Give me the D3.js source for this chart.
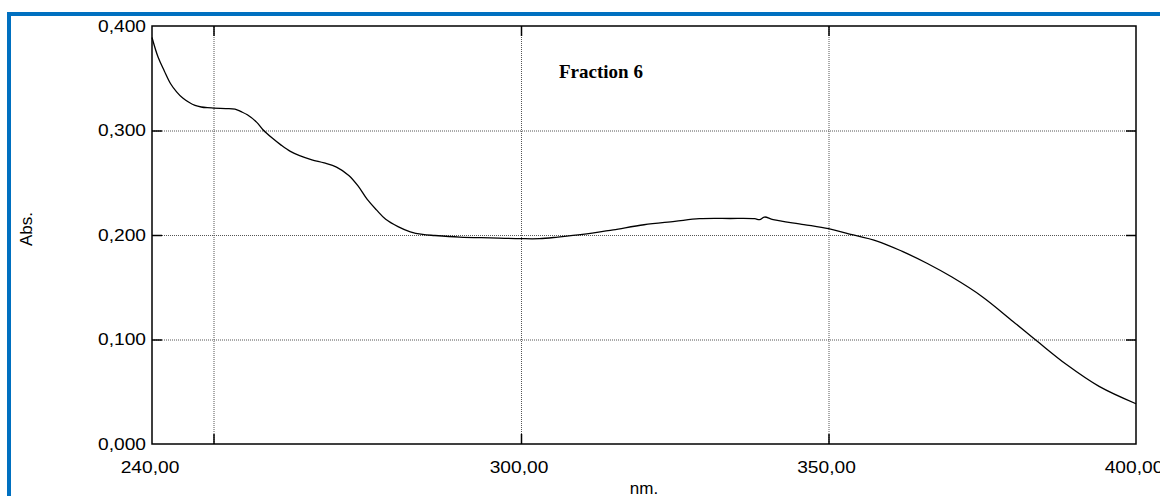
<!DOCTYPE html>
<html>
<head>
<meta charset="utf-8">
<script src="https://cdn.jsdelivr.net/npm/d3@7"></script>
<style>
  body { margin: 0; background: #fff; }
  text { fill: #000; }
</style>
</head>
<body>
<div id="chart"></div>
<script>
// Spectrum: wavelength (nm) and absorbance
const wavelengths = [240, 241, 242, 243, 244, 245, 246, 247, 248, 249, 250, 252, 253.5, 254.5, 255.5, 257, 258, 259.5, 261, 262.5, 264, 266, 268, 270, 272, 273.5, 275, 276.5, 278, 280, 282, 284, 286, 290, 295, 300, 303, 306, 310, 315, 320, 325, 329, 334, 338, 338.8, 339.6, 341, 346, 350, 353, 358, 362, 366, 370, 375, 380, 384, 388.7, 394, 400];
const absorbance = [0.389, 0.370, 0.357, 0.345, 0.337, 0.331, 0.327, 0.324, 0.3225, 0.3218, 0.3215, 0.321, 0.3205, 0.318, 0.315, 0.308, 0.301, 0.293, 0.286, 0.280, 0.276, 0.272, 0.269, 0.265, 0.257, 0.247, 0.234, 0.224, 0.215, 0.208, 0.203, 0.2005, 0.1995, 0.198, 0.1972, 0.1965, 0.1965, 0.198, 0.2005, 0.205, 0.2098, 0.213, 0.2156, 0.2158, 0.2156, 0.2147, 0.2172, 0.2147, 0.2100, 0.2060, 0.2015, 0.194, 0.1843, 0.173, 0.160, 0.141, 0.1173, 0.098, 0.076, 0.0551, 0.0385];

const xLabelValues = [240, 300, 350, 400];
const xGridValues = [250, 300, 350];
const yTickValues = [0, 0.1, 0.2, 0.3, 0.4];
const yGridValues = [0.1, 0.2, 0.3];
const chartTitle = "Fraction 6";

const sansFont = "'Liberation Sans', Arial, sans-serif";
const serifFont = "'Liberation Serif', 'Times New Roman', serif";

const svgWidth = 1160;
const svgHeight = 496;
const margin = { top: 26, right: 24, bottom: 52, left: 152 };
const chartWidth = 1136 - margin.left;
const chartHeight = 444 - margin.top;

const svg = d3.select("#chart")
  .append("svg")
  .attr("width", svgWidth)
  .attr("height", svgHeight);

svg.append("rect").attr("width", svgWidth).attr("height", svgHeight).attr("fill", "#fff");

// blue frame (top + left only)
svg.append("rect").attr("x", 7).attr("y", 12).attr("width", svgWidth - 7).attr("height", 4).attr("fill", "#0070c0");
svg.append("rect").attr("x", 7).attr("y", 12).attr("width", 4).attr("height", svgHeight - 12).attr("fill", "#0070c0");

const chartGroup = svg.append("g")
  .attr("transform", `translate(${margin.left}, ${margin.top})`);

const xScale = d3.scaleLinear().domain([240, 400]).range([0, chartWidth]);
const yScale = d3.scaleLinear().domain([0, 0.4]).range([chartHeight, 0]);

const fmtX = v => d3.format(".2f")(v).replace(".", ",");
const fmtY = v => d3.format(".3f")(v).replace(".", ",");

// dotted grid
chartGroup.append("g")
  .attr("class", "grid")
  .call(d3.axisLeft(yScale).tickValues(yGridValues).tickSize(-chartWidth).tickFormat(""));
chartGroup.append("g")
  .attr("class", "grid")
  .attr("transform", `translate(0, ${chartHeight})`)
  .call(d3.axisBottom(xScale).tickValues(xGridValues).tickSize(-chartHeight).tickFormat(""));
chartGroup.selectAll(".grid .domain").remove();
chartGroup.selectAll(".grid line")
  .attr("stroke", "#555")
  .attr("stroke-width", 1)
  .attr("stroke-dasharray", "1,1");

// short inside tick marks on all four sides
const tickAxes = [
  { axis: d3.axisLeft(yScale).tickValues(yGridValues), t: "translate(0,0)" },
  { axis: d3.axisRight(yScale).tickValues(yGridValues), t: `translate(${chartWidth},0)` },
  { axis: d3.axisBottom(xScale).tickValues(xGridValues), t: `translate(0,${chartHeight})` },
  { axis: d3.axisTop(xScale).tickValues(xGridValues), t: "translate(0,0)" }
];
tickAxes.forEach(a => {
  const g = chartGroup.append("g")
    .attr("transform", a.t)
    .call(a.axis.tickSize(-10).tickFormat(""));
  g.select(".domain").remove();
  g.selectAll("line").attr("stroke", "#000").attr("stroke-width", 1.5);
});

// tick labels
const yLabels = chartGroup.append("g")
  .call(d3.axisLeft(yScale).tickValues(yTickValues).tickSize(0).tickPadding(6).tickFormat(fmtY));
yLabels.select(".domain").remove();
yLabels.selectAll("text")
  .style("font-size", "17px")
  .style("font-family", sansFont)
  .attr("x", null)
  .attr("transform", "translate(-6,0) scale(1.13,1)");

const xLabels = chartGroup.append("g")
  .attr("transform", `translate(0, ${chartHeight})`)
  .call(d3.axisBottom(xScale).tickValues(xLabelValues).tickSize(0).tickPadding(17).tickFormat(fmtX));
xLabels.select(".domain").remove();
xLabels.selectAll("text")
  .style("font-size", "17px")
  .style("font-family", sansFont)
  .attr("transform", "scale(1.13,1)");
// keep labels centred under their tick after horizontal stretch
xLabels.selectAll(".tick").each(function(d) {
  d3.select(this).attr("transform", `translate(${xScale(d) - 2},0)`);
});

// plot frame
chartGroup.append("rect")
  .attr("width", chartWidth)
  .attr("height", chartHeight)
  .attr("fill", "none")
  .attr("stroke", "#000")
  .attr("stroke-width", 1.5);

// spectrum line
const spectrum = wavelengths.map((w, i) => ({ nm: w, abs: absorbance[i] }));
const line = d3.line()
  .x(d => xScale(d.nm))
  .y(d => yScale(d.abs))
  .curve(d3.curveCatmullRom);

chartGroup.append("path")
  .datum(spectrum)
  .attr("fill", "none")
  .attr("stroke", "#000")
  .attr("stroke-width", 1.3)
  .attr("d", line);

// title inside plot
chartGroup.append("text")
  .attr("x", 559 - margin.left)
  .attr("y", 78 - margin.top)
  .style("font-family", serifFont)
  .style("font-weight", "bold")
  .style("font-size", "19px")
  .text(chartTitle);

// axis titles
svg.append("text")
  .attr("x", margin.left + chartWidth / 2)
  .attr("y", 494)
  .attr("text-anchor", "middle")
  .style("font-family", sansFont)
  .style("font-size", "17px")
  .text("nm.");

svg.append("text")
  .attr("transform", `translate(32, ${margin.top + chartHeight / 2 - 6}) rotate(-90)`)
  .attr("text-anchor", "middle")
  .style("font-family", sansFont)
  .style("font-size", "17px")
  .text("Abs.");
</script>
</body>
</html>
